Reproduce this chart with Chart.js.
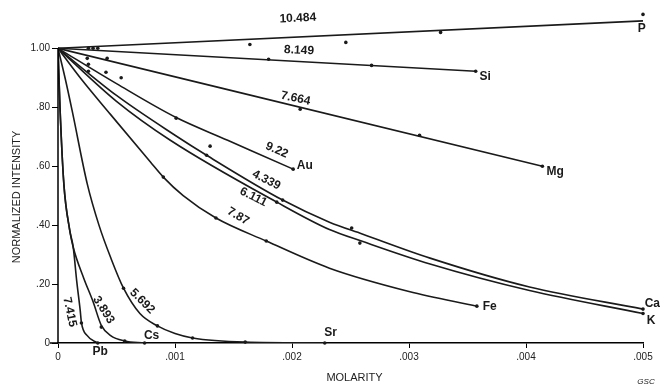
<!DOCTYPE html>
<html>
<head>
<meta charset="utf-8">
<script src="https://cdn.jsdelivr.net/npm/chart.js@4/dist/chart.umd.min.js"></script>
<style>
  html, body { margin: 0; padding: 0; background: #fff; }
  #wrap { width: 661px; height: 386px; }
</style>
</head>
<body>
<div id="wrap"><canvas id="chart"></canvas></div>
<script>
// --- DATA: molarity (x) and normalized intensity (y) ---
const pM  = [0, 0.005];
const pI  = [1, 1.093];
const siM = [0, 0.00357];
const siI = [1, 0.922];
const mgM = [0, 0.00414];
const mgI = [1, 0.60];
const auM = [0, 0.0005, 0.00101, 0.00145, 0.00201];
const auI = [1, 0.88, 0.765, 0.688, 0.59];
const caM = [0, 0.0005, 0.001, 0.00127, 0.00192, 0.00232, 0.0026, 0.00318, 0.00403, 0.005];
const caI = [1, 0.84, 0.705, 0.637, 0.485, 0.41, 0.37, 0.288, 0.19, 0.115];
const kM  = [0, 0.0005, 0.00096, 0.00187, 0.00232, 0.0026, 0.00318, 0.00403, 0.005];
const kI  = [1, 0.82, 0.688, 0.478, 0.385, 0.345, 0.268, 0.178, 0.10];
const feM = [0, 0.0002, 0.00045, 0.00079, 0.0009, 0.00107, 0.00135, 0.00178, 0.00232, 0.003, 0.00358];
const feI = [1, 0.895, 0.775, 0.614, 0.563, 0.50, 0.424, 0.346, 0.254, 0.175, 0.125];
const srM = [0, 0.00006, 0.00012, 0.00025, 0.00035, 0.00045, 0.00056, 0.0007, 0.00085, 0.001, 0.00115, 0.0016, 0.00228];
const srI = [1, 0.9, 0.79, 0.54, 0.4, 0.29, 0.186, 0.1, 0.058, 0.032, 0.017, 0.003, 0];
const csM = [0, 0.000017, 0.00005, 0.0001, 0.00013, 0.00022, 0.0003, 0.00037, 0.00045, 0.00057, 0.00074];
const csI = [1, 0.8, 0.54, 0.383, 0.325, 0.22, 0.14, 0.06, 0.025, 0.007, 0];
const pbM = [0, 0.000017, 0.00005, 0.0001, 0.00013, 0.00016, 0.00019, 0.0002, 0.00025, 0.00034];
const pbI = [1, 0.8, 0.54, 0.383, 0.325, 0.21, 0.11, 0.07, 0.025, 0];

// measured points (dots)
const dotM = [0.00026, 0.0003, 0.00034, 0.00164, 0.00246, 0.00327, 0.005,
              0.00025, 0.00042, 0.0018, 0.00268, 0.00357,
              0.00026, 0.00026, 0.00041, 0.00054,
              0.00207, 0.00309, 0.00414,
              0.00101, 0.0013, 0.00201,
              0.00127, 0.00192, 0.00187, 0.00251, 0.00258, 0.005, 0.005,
              0.0009, 0.00135, 0.00178, 0.00358,
              0.00056, 0.00085, 0.00115, 0.0016, 0.00228,
              0.00037, 0.00057, 0.00074,
              0.0002, 0.00034];
const dotI = [1, 1, 1, 1.013, 1.02, 1.054, 1.115,
              0.966, 0.966, 0.963, 0.942, 0.922,
              0.946, 0.922, 0.919, 0.90,
              0.793, 0.705, 0.60,
              0.763, 0.668, 0.59,
              0.637, 0.485, 0.478, 0.39, 0.339, 0.115, 0.10,
              0.563, 0.424, 0.346, 0.125,
              0.186, 0.058, 0.017, 0.003, 0,
              0.054, 0.007, 0,
              0.068, 0];

// curve constants written along the lines
const numText = ['10.484', '8.149', '7.664', '9.22', '4.339', '6.111', '7.87', '5.692', '3.893', '7.415'];
const numM    = [0.00205, 0.00206, 0.00203, 0.00187, 0.00178, 0.00167, 0.00154, 0.00072, 0.00039, 0.0001];
const numI    = [1.102, 0.993, 0.83, 0.654, 0.553, 0.495, 0.43, 0.142, 0.112, 0.105];
const numRot  = [-2.7, 3, 12, 24, 27, 27, 30, 45, 58, 78];

// element names at line ends
const nameText = ['P', 'Si', 'Mg', 'Au', 'Fe', 'Ca', 'K', 'Sr', 'Cs', 'Pb'];
const nameM    = [0.00499, 0.00365, 0.00425, 0.00211, 0.00369, 0.00508, 0.00507, 0.00233, 0.0008, 0.00036];
const nameI    = [1.066, 0.905, 0.58, 0.603, 0.122, 0.132, 0.075, 0.034, 0.024, -0.03];

const FONT = '"Liberation Sans", Arial, Helvetica, sans-serif';
const INK = '#1a1a1a';

const pts = (xs, ys) => xs.map((v, i) => ({ x: v, y: ys[i] }));
const curves = [[pM, pI], [siM, siI], [mgM, mgI], [auM, auI], [caM, caI],
                [kM, kI], [feM, feI], [srM, srI], [csM, csI], [pbM, pbI]];

const datasets = curves.map(([xs, ys]) => ({
    data: pts(xs, ys),
    borderColor: INK,
    borderWidth: 1.6,
    pointRadius: 0,
    cubicInterpolationMode: 'monotone',
    fill: false
}));
datasets.push({
    type: 'scatter',
    data: pts(dotM, dotI),
    pointRadius: 1.8,
    backgroundColor: INK,
    borderWidth: 0,
    clip: false
});

// labels, y axis line and axis titles
const annotate = {
    id: 'annotate',
    afterDraw(chart) {
        const { ctx, scales: { x, y } } = chart;
        ctx.save();
        ctx.strokeStyle = '#000';
        ctx.lineWidth = 1.5;
        ctx.beginPath();
        ctx.moveTo(x.left, y.getPixelForValue(0));
        ctx.lineTo(x.left, y.getPixelForValue(1));
        ctx.moveTo(x.left - 8, y.getPixelForValue(0));
        ctx.lineTo(x.left, y.getPixelForValue(0));
        ctx.stroke();

        ctx.fillStyle = INK;
        ctx.textAlign = 'center';
        ctx.textBaseline = 'middle';
        ctx.font = 'bold 12px ' + FONT;
        numText.forEach((t, i) => {
            ctx.save();
            ctx.translate(x.getPixelForValue(numM[i]), y.getPixelForValue(numI[i]));
            ctx.rotate(numRot[i] * Math.PI / 180);
            ctx.fillText(t, 0, 0);
            ctx.restore();
        });

        ctx.font = 'bold 12px ' + FONT;
        nameText.forEach((t, i) => {
            ctx.fillText(t, x.getPixelForValue(nameM[i]), y.getPixelForValue(nameI[i]));
        });

        // axis titles
        ctx.font = '11px ' + FONT;
        ctx.fillStyle = '#222';
        ctx.fillText('MOLARITY', (x.left + x.right) / 2 + 4, 378);
        ctx.save();
        ctx.translate(17, 197);
        ctx.rotate(-Math.PI / 2);
        ctx.fillText('NORMALIZED INTENSITY', 0, 0);
        ctx.restore();

        ctx.font = 'italic 8px ' + FONT;
        ctx.fillText('GSC', 646, 382);
        ctx.restore();
    }
};

new Chart(document.getElementById('chart'), {
    type: 'line',
    data: { datasets },
    options: {
        responsive: true,
        maintainAspectRatio: false,
        animation: false,
        layout: { padding: { top: 10, right: 18, left: 0, bottom: 0 } },
        plugins: { legend: { display: false }, tooltip: { enabled: false } },
        scales: {
            x: {
                type: 'linear',
                min: 0,
                max: 0.005,
                afterFit: s => { s.height = 43; },
                ticks: {
                    stepSize: 0.001,
                    color: '#222',
                    padding: 3,
                    maxRotation: 0,
                    font: { size: 10, family: FONT },
                    callback: v => v === 0 ? '0' : v.toFixed(3).replace(/^0/, '')
                },
                grid: { drawOnChartArea: false, tickLength: 5, color: '#000', lineWidth: 1 },
                border: { color: '#000', width: 1.5 }
            },
            y: {
                type: 'linear',
                min: 0,
                max: 1.13,
                afterFit: s => { s.width = 58; },
                afterBuildTicks: s => { s.ticks = s.ticks.filter(t => t.value <= 1.0001); },
                ticks: {
                    stepSize: 0.2,
                    color: '#222',
                    padding: 2,
                    font: { size: 10, family: FONT },
                    callback: v => v === 0 ? '0' : (v >= 0.9999 ? '1.00' : v.toFixed(2).replace(/^0/, ''))
                },
                grid: { drawOnChartArea: false, tickLength: 6, color: '#000', lineWidth: 1 },
                border: { display: false }
            }
        }
    },
    plugins: [annotate]
});
</script>
</body>
</html>
